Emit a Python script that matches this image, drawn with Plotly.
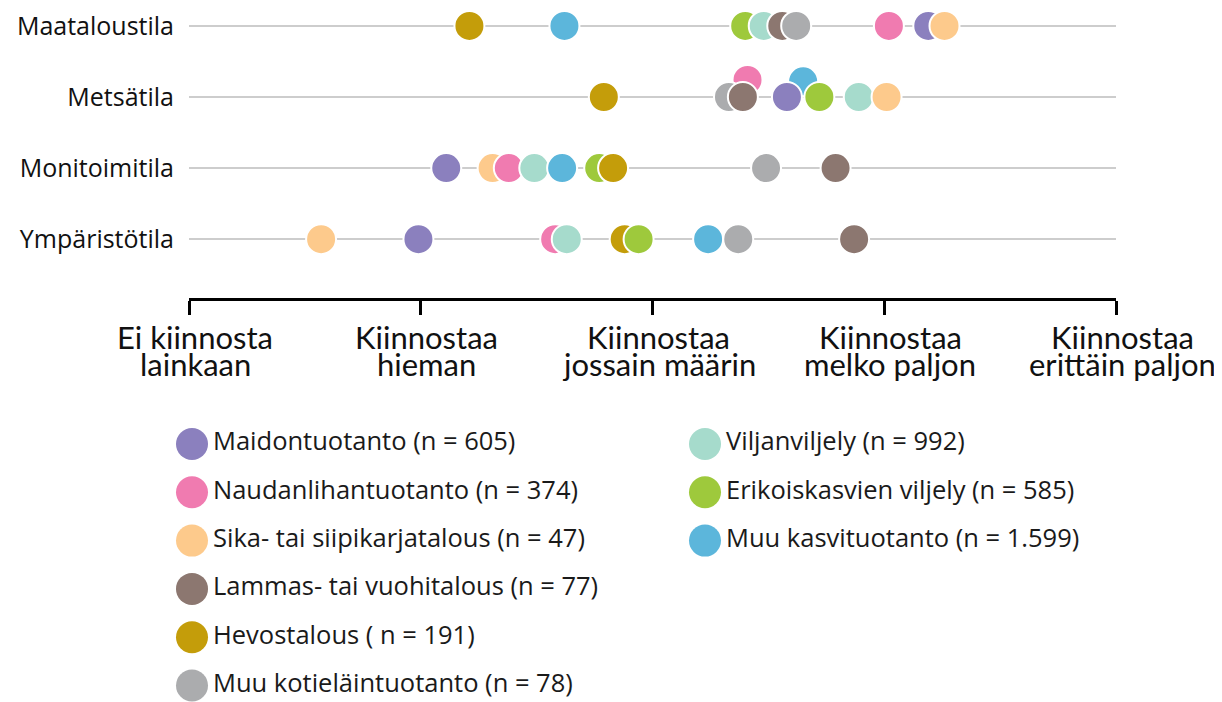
import plotly.graph_objects as go

# Tilatyypit (rivit ylhäältä alas)
tilat = ["Maataloustila", "Metsätila", "Monitoimitila", "Ympäristötila"]

# Tuotantosuunnat, otoskoot ja värit
suunnat = [
    "Maidontuotanto (n = 605)",
    "Naudanlihantuotanto (n = 374)",
    "Sika- tai siipikarjatalous (n = 47)",
    "Lammas- tai vuohitalous (n = 77)",
    "Hevostalous ( n = 191)",
    "Muu kotieläintuotanto (n = 78)",
    "Viljanviljely (n = 992)",
    "Erikoiskasvien viljely (n = 585)",
    "Muu kasvituotanto (n = 1.599)",
]
varit = ["#8b80be", "#f07bb0", "#fdca8c", "#8c7770", "#c49d0a",
         "#abacae", "#a6dbcc", "#9ec93c", "#5cb6db"]

# Keskiarvot asteikolla 1-5, suuntien järjestyksessä
maatalous = [4.19, 4.02, 4.26, 3.56, 2.21, 3.62, 3.48, 3.40, 2.62]
metsa = [3.58, 3.41, 4.01, 3.39, 2.79, 3.33, 3.89, 3.72, 3.65]
monitoimi = [2.11, 2.38, 2.31, 3.79, 2.83, 3.49, 2.49, 2.77, 2.61]
ymparisto = [1.99, 2.58, 1.57, 3.87, 2.88, 3.37, 2.63, 2.94, 3.24]
arvot = [maatalous, metsa, monitoimi, ymparisto]

# Päällekkäisyyden vuoksi ylös nostetut pallot (Metsätila)
nosto = [
    [0] * 9,
    [0, 0.24, 0, 0, 0, 0, 0, 0, 0.22],
    [0] * 9,
    [0] * 9,
]

# Asteikon tekstit
asteikko = [1, 2, 3, 4, 5]
asteikko_r1 = ["Ei kiinnosta", "Kiinnostaa", "Kiinnostaa", "Kiinnostaa", "Kiinnostaa"]
asteikko_r2 = ["lainkaan", "hieman", "jossain määrin", "melko paljon", "erittäin paljon"]

W, H = 1222, 702
OFF = 8  # sivun body-marginaali
FONT = "Open Sans"
FONT_AX = "Lato"

fig = go.Figure()

# Pallot riveittäin, nostetut ensin ja sitten vasemmalta oikealle
for r, tila in enumerate(tilat):
    ypos = len(tilat) - 1 - r
    order = sorted(range(len(suunnat)), key=lambda i: (nosto[r][i] == 0, arvot[r][i]))
    fig.add_trace(go.Scatter(
        x=[arvot[r][i] for i in order],
        y=[ypos + nosto[r][i] for i in order],
        mode="markers",
        marker=dict(size=30, color=[varit[i] for i in order],
                    line=dict(color="white", width=2)),
        text=[suunnat[i] for i in order],
        hovertemplate="%{text}<br>" + tila + ": %{x:.2f}<extra></extra>",
        showlegend=False,
        xaxis="x", yaxis="y",
    ))

# Selite omalle akselilleen (2 saraketta)
fig.add_trace(go.Scatter(
    x=[i // 6 for i in range(len(suunnat))],
    y=[i % 6 for i in range(len(suunnat))],
    mode="markers+text",
    marker=dict(size=32, color=varit),
    text=suunnat,
    textposition="middle right",
    textfont=dict(family=FONT, size=25.5, color="#1a1a1a"),
    hoverinfo="skip",
    showlegend=False,
    xaxis="x2", yaxis="y2",
))

# Asteikon tekstit kahdella rivillä
for v, t1, t2 in zip(asteikko, asteikko_r1, asteikko_r2):
    fig.add_annotation(x=v, y=1 - (337 - OFF) / H, xref="x", yref="paper", text=t1,
                       showarrow=False, xanchor="center", yanchor="middle", xshift=6,
                       font=dict(family=FONT_AX, size=31, color="#111"))
    fig.add_annotation(x=v, y=1 - (364 - OFF) / H, xref="x", yref="paper", text=t2,
                       showarrow=False, xanchor="center", yanchor="middle", xshift=6,
                       font=dict(family=FONT_AX, size=31, color="#111"))

px_x = 513.0
px_y = 48.3
fig.update_layout(
    width=W, height=H,
    margin=dict(l=0, r=0, t=0, b=0),
    paper_bgcolor="white", plot_bgcolor="white",
    font=dict(family=FONT, color="#111"),
    xaxis=dict(domain=[(189 - OFF) / W, (1116 - OFF) / W], range=[1, 5], anchor="y",
               tickvals=asteikko, showticklabels=False,
               showline=True, linewidth=3, linecolor="black",
               ticks="outside", ticklen=14, tickwidth=3, tickcolor="black",
               showgrid=False, zeroline=False, fixedrange=True),
    yaxis=dict(domain=[1 - (298 - OFF) / H, 1], range=[-0.827, 3.252], anchor="x",
               tickvals=[3, 2, 1, 0], ticktext=tilat,
               tickfont=dict(family=FONT, size=25, color="#111"),
               ticklabelstandoff=14, ticklabeloverflow="allow",
               showgrid=True, gridcolor="#cdcdcd", gridwidth=2,
               showline=False, zeroline=False, fixedrange=True),
    xaxis2=dict(domain=[0, 1], anchor="y2",
                range=[-(192 - OFF) / px_x, (W - 192 + OFF) / px_x],
                visible=False, fixedrange=True),
    yaxis2=dict(domain=[0, 1 - (400 - OFF) / H], anchor="x2",
                range=[(H - 444 + OFF) / px_y, -(444 - 400) / px_y],
                visible=False, fixedrange=True),
)

fig.write_html("out.html")
